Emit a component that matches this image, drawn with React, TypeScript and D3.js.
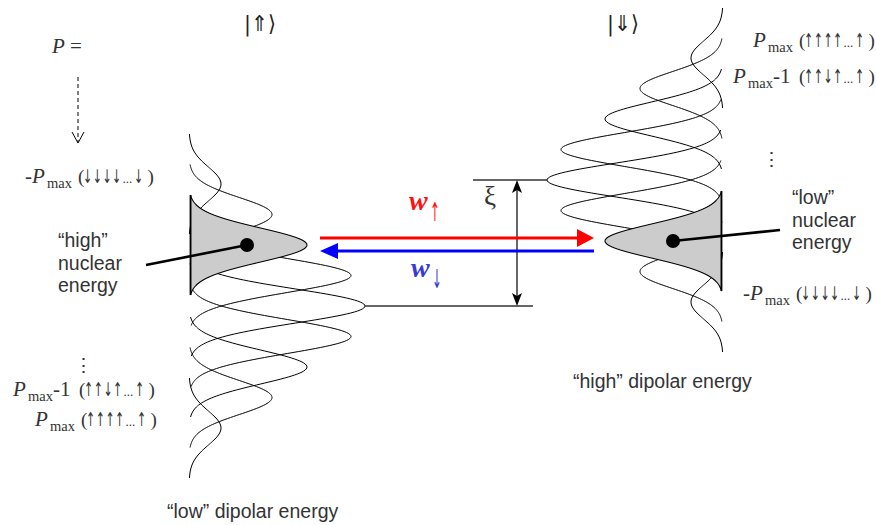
import React from 'react';
import * as d3 from 'd3';

const W = 876;
const H = 525;

// Population of each polarization level, ordered from -Pmax to Pmax
const lobeAmplitudes = [32, 83, 118, 162, 176, 162, 118, 83, 32];
// Level that holds the system (counted from -Pmax)
const occupiedLevel = 2;

// Spin configurations quoted next to the level names: first four spins, then the last one
const spinsAllDown = ['↓', '↓', '↓', '↓', '↓'];
const spinsOneFlip = ['↑', '↑', '↓', '↑', '↑'];
const spinsAllUp = ['↑', '↑', '↑', '↑', '↑'];

// Gaussian outline of one level
const sigma = 17;
const halfSpan = 50;
const offsets = d3.range(-halfSpan, halfSpan + 0.5, 1);
const lineGen = d3.line<[number, number]>();

function lobePath(base: number, dir: number, center: number, amp: number, closed = false) {
  const pts: [number, number][] = offsets.map((t) => [
    base + dir * amp * Math.exp(-(t * t) / (2 * sigma * sigma)),
    center + t,
  ]);
  return (lineGen(pts) || '') + (closed ? 'Z' : '');
}

const serif = "'Liberation Serif', 'Times New Roman', Times, serif";
const sans = "'Liberation Sans', Arial, Helvetica, sans-serif";
const arrowFont = "'DejaVu Sans', sans-serif";
const textColor = '#333';

// A narrow arrow glyph: the arrow font is wide, so it is squeezed horizontally
function Arrow(props: { x: number; y: number; ch: string; size: number; sx: number; fill: string }) {
  const { x, y, ch, size, sx, fill } = props;
  return (
    <text
      transform={`translate(${x},${y}) scale(${sx},1)`}
      fontSize={size}
      fontFamily={arrowFont}
      fill={fill}
      opacity={0.99}
    >
      {ch}
    </text>
  );
}

function SpinText(props: { x: number; y: number; spins: string[] }) {
  const { x, y, spins } = props;
  const slots = [5, 14.7, 24.4, 34.1, 56];
  return (
    <g>
      <text x={x} y={y} fontSize={19} fontFamily={serif} fill={textColor}>
        (
      </text>
      {spins.map((s, i) => (
        <Arrow key={i} x={x + slots[i]} y={y} ch={s} size={19} sx={0.58} fill={textColor} />
      ))}
      <text x={x + 44.5} y={y} fontSize={13} fontFamily={serif} fill={textColor}>
        ...
      </text>
      <text x={x + 69.5} y={y} fontSize={19} fontFamily={serif} fill={textColor}>
        )
      </text>
    </g>
  );
}

function LevelLabel(props: { x: number; y: number; neg?: boolean; minusOne?: boolean; spins: string[] }) {
  const { x, y, neg = false, minusOne = false, spins } = props;
  const px = neg ? x + 7 : x;
  return (
    <g fill={textColor} fontFamily={serif}>
      {neg && (
        <text x={x} y={y} fontSize={21}>
          -
        </text>
      )}
      <text x={px} y={y} fontSize={21} fontStyle="italic">
        P
      </text>
      <text x={px + 15} y={y + 5} fontSize={14.5}>
        max
      </text>
      {minusOne && (
        <text x={px + 40} y={y} fontSize={21}>
          -1
        </text>
      )}
      <SpinText x={px + (minusOne ? 66 : 46)} y={y} spins={spins} />
    </g>
  );
}

function Stack(props: { base: number; dir: number; y: d3.ScaleLinear<number, number>; shaded: number }) {
  const { base, dir, y, shaded } = props;
  return (
    <g>
      {lobeAmplitudes.map((a, i) =>
        i === shaded ? null : (
          <path key={i} d={lobePath(base, dir, y(i), a)} fill="none" stroke="#000" strokeWidth={1} />
        )
      )}
      <path
        d={lobePath(base, dir, y(shaded), lobeAmplitudes[shaded], true)}
        fill="#cccccc"
        stroke="#000"
        strokeWidth={1.1}
      />
      <line
        x1={base + dir * 1.5}
        x2={base + dir * 1.5}
        y1={y(shaded) - halfSpan}
        y2={y(shaded) + halfSpan}
        stroke="#000"
        strokeWidth={1.8}
      />
    </g>
  );
}

export default function App() {
  // Left stack: -Pmax at the top; right stack: Pmax at the top
  const yLeft = d3.scaleLinear().domain([0, lobeAmplitudes.length - 1]).range([184, 428]);
  const yRight = d3.scaleLinear().domain([lobeAmplitudes.length - 1, 0]).range([58, 302]);
  const leftBase = 189;
  const rightBase = 723;
  const mid = (lobeAmplitudes.length - 1) / 2;
  const peakAmp = lobeAmplitudes[mid];

  const leftDot: [number, number] = [247, yLeft(occupiedLevel)];
  const rightDot: [number, number] = [673, yRight(occupiedLevel)];

  const xiX = 517;
  const xiTop = yRight(mid);
  const xiBottom = yLeft(mid);

  const redY = 238;
  const blueY = 251;
  const red = '#ff1010';
  const blue = '#3a3ad0';

  return (
    <svg
      width={W}
      height={H}
      viewBox={`0 0 ${W} ${H}`}
      style={{ position: 'absolute', left: 0, top: 0, background: '#fff' }}
    >
      <rect width={W} height={H} fill="#fff" />

      {/* ket labels */}
      <text x={244} y={31} fontSize={22} fontFamily={arrowFont} fill="#222" textLength={32} lengthAdjust="spacingAndGlyphs">
        |⇑⟩
      </text>
      <text x={607} y={31} fontSize={22} fontFamily={arrowFont} fill="#222" textLength={32} lengthAdjust="spacingAndGlyphs">
        |⇓⟩
      </text>

      {/* level stacks */}
      <Stack base={leftBase} dir={1} y={yLeft} shaded={occupiedLevel} />
      <Stack base={rightBase} dir={-1} y={yRight} shaded={occupiedLevel} />

      {/* splitting xi */}
      <line x1={473} x2={rightBase - peakAmp} y1={xiTop} y2={xiTop} stroke="#333" strokeWidth={1.4} />
      <line x1={leftBase + peakAmp} x2={533} y1={xiBottom} y2={xiBottom} stroke="#333" strokeWidth={1.4} />
      <line x1={xiX} x2={xiX} y1={xiTop + 6} y2={xiBottom - 6} stroke="#000" strokeWidth={1.2} />
      <path
        d={`M${xiX},${xiTop} L${xiX + 5},${xiTop + 13} L${xiX},${xiTop + 10} L${xiX - 5},${xiTop + 13} Z`}
        fill="#000"
      />
      <path
        d={`M${xiX},${xiBottom} L${xiX + 5},${xiBottom - 13} L${xiX},${xiBottom - 10} L${xiX - 5},${xiBottom - 13} Z`}
        fill="#000"
      />
      <text x={484} y={205} fontSize={27} fontFamily={serif} fill={textColor}>
        ξ
      </text>

      {/* transition rates */}
      <line x1={320} x2={580} y1={redY} y2={redY} stroke="#ff0000" strokeWidth={3} />
      <path d={`M577,${redY - 9} L594,${redY} L577,${redY + 9} Z`} fill="#ff0000" />
      <line x1={335} x2={594} y1={blueY} y2={blueY} stroke="#0000ff" strokeWidth={3} />
      <path d={`M338,${blueY - 8} L320,${blueY} L338,${blueY + 8} Z`} fill="#0000ff" />

      <text x={409} y={210} fontSize={28} fontWeight="bold" fontStyle="italic" fontFamily={serif} fill={red}>
        w
      </text>
      <Arrow x={430} y={221} ch="↑" size={26} sx={0.45} fill={red} />
      <text x={411} y={277} fontSize={28} fontWeight="bold" fontStyle="italic" fontFamily={serif} fill={blue}>
        w
      </text>
      <Arrow x={432} y={288} ch="↓" size={26} sx={0.45} fill={blue} />

      {/* occupied-level markers */}
      <line x1={146} y1={265} x2={leftDot[0]} y2={leftDot[1]} stroke="#000" strokeWidth={2.6} />
      <circle cx={leftDot[0]} cy={leftDot[1]} r={7} fill="#000" />
      <line x1={rightDot[0]} y1={rightDot[1]} x2={780} y2={230} stroke="#000" strokeWidth={2.6} />
      <circle cx={rightDot[0]} cy={rightDot[1]} r={7} fill="#000" />

      {/* nuclear energy notes */}
      <g fontFamily={sans} fontSize={19.5} fill={textColor}>
        <text x={58} y={247}>“high”</text>
        <text x={58} y={269.5}>nuclear</text>
        <text x={58} y={292}>energy</text>
        <text x={792} y={204}>“low”</text>
        <text x={792} y={226.5}>nuclear</text>
        <text x={792} y={249}>energy</text>
        <text x={167} y={518}>“low” dipolar energy</text>
        <text x={573} y={388}>“high” dipolar energy</text>
      </g>

      {/* polarization axis */}
      <text x={52} y={53} fontSize={21} fontFamily={serif} fill={textColor}>
        <tspan fontStyle="italic">P</tspan> =
      </text>
      <line x1={78} x2={78} y1={77} y2={142} stroke="#000" strokeWidth={1} strokeDasharray="4,3" />
      <path d="M72,132 L78,143 L84,132" fill="none" stroke="#000" strokeWidth={1} />

      <LevelLabel x={25} y={183} neg spins={spinsAllDown} />
      <text x={74} y={372} fontSize={19} fontFamily={serif} fill={textColor}>
        ⋮
      </text>
      <LevelLabel x={13} y={396} minusOne spins={spinsOneFlip} />
      <LevelLabel x={35} y={426} spins={spinsAllUp} />

      <LevelLabel x={753} y={47} spins={spinsAllUp} />
      <LevelLabel x={733} y={83} minusOne spins={spinsOneFlip} />
      <text x={762} y={166} fontSize={19} fontFamily={serif} fill={textColor}>
        ⋮
      </text>
      <LevelLabel x={743} y={300} neg spins={spinsAllDown} />
    </svg>
  );
}
